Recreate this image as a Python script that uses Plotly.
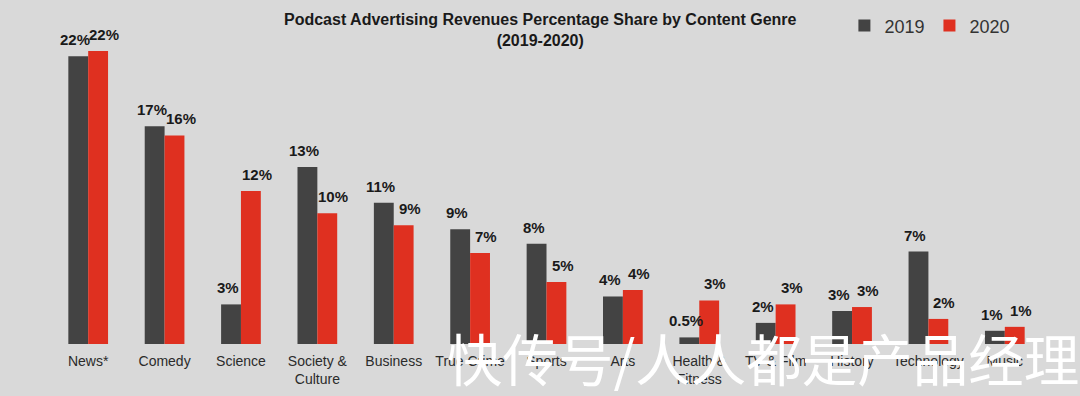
import plotly.graph_objects as go

categories = ["News*", "Comedy", "Science", "Society &<br>Culture", "Business", "True Crime",
              "Sports", "Arts", "Health &<br>Fitness", "TV & Film", "History", "Technology", "Music"]
values_2019 = [21.8, 16.5, 3.0, 13.4, 10.7, 8.7, 7.6, 3.6, 0.5, 1.6, 2.5, 7.0, 1.0]
values_2020 = [22.2, 15.8, 11.6, 9.9, 9.0, 6.9, 4.7, 4.1, 3.3, 3.0, 2.8, 1.9, 1.3]
labels_2019 = ["22%", "17%", "3%", "13%", "11%", "9%", "8%", "4%", "0.5%", "2%", "3%", "7%", "1%"]
labels_2020 = ["22%", "16%", "12%", "10%", "9%", "7%", "5%", "4%", "3%", "3%", "3%", "2%", "1%"]

C2019 = "#434343"
C2020 = "#df3020"
BG = "#d9d9d9"
FONT = "Liberation Sans, Arial, sans-serif"

fig = go.Figure()
fig.add_trace(go.Bar(name="2019", x=categories, y=values_2019, marker_color=C2019,
                     marker_line_width=0))
fig.add_trace(go.Bar(name="2020", x=categories, y=values_2020, marker_color=C2020,
                     marker_line_width=0))

annotations = []
for c, v, t in zip(categories, values_2019, labels_2019):
    annotations.append(dict(x=c, y=v, text="<b>" + t + "</b>", showarrow=False,
                            xref="x", yref="y", yanchor="bottom", xshift=-13, yshift=6,
                            font=dict(family=FONT, size=15, color="#1a1a1a")))
for c, v, t in zip(categories, values_2020, labels_2020):
    annotations.append(dict(x=c, y=v, text="<b>" + t + "</b>", showarrow=False,
                            xref="x", yref="y", yanchor="bottom", xshift=16, yshift=6,
                            font=dict(family=FONT, size=15, color="#1a1a1a")))

# title
annotations.append(dict(x=0.4935, y=1.015, xref="paper", yref="paper", showarrow=False,
                        xanchor="center", yanchor="top",
                        text="<b>Podcast Advertising Revenues Percentage Share by Content Genre<br>(2019-2020)</b>",
                        font=dict(family=FONT, size=16, color="#1a1a1a")))

# watermark overlay
annotations.append(dict(x=0.718, y=-0.04, xref="paper", yref="paper", showarrow=False,
                        text="快传号/人人都是产品经理", yanchor="middle", xanchor="center",
                        font=dict(family="Noto Sans CJK SC", size=55.5, color="#ffffff")))

fig.update_layout(
    width=1080, height=396,
    barmode="group", bargap=0.48, bargroupgap=0,
    paper_bgcolor=BG, plot_bgcolor=BG,
    margin=dict(l=50, r=37, t=14, b=52, autoexpand=False),
    font=dict(family=FONT, size=14, color="#262626"),
    legend=dict(orientation="h", x=0.80, y=1.02, xanchor="left", yanchor="top",
                font=dict(family=FONT, size=18, color="#333333"),
                bgcolor="rgba(0,0,0,0)", itemwidth=30, traceorder="normal"),
    annotations=annotations,
    xaxis=dict(showgrid=False, showline=False, zeroline=False, ticks="",
               ticklabelstandoff=7,
               tickfont=dict(family=FONT, size=14, color="#2b2b2b")),
    yaxis=dict(range=[0, 25], visible=False, showgrid=False, zeroline=False),
)

fig.write_html("out.html", config={"displayModeBar": False},
               post_script="document.body.style.margin='0';document.body.style.background='#d9d9d9';")
